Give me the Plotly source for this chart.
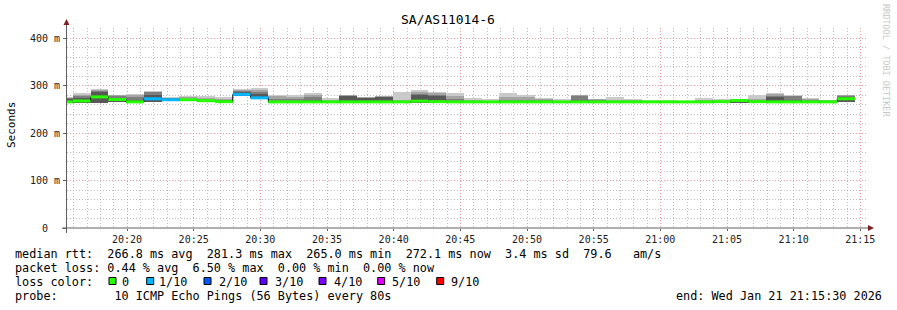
import plotly.graph_objects as go
from datetime import datetime, timedelta

# ---------------- data ----------------
first_bin_start = datetime(2026, 1, 21, 20, 14, 36)
step_seconds = 80
view_start = datetime(2026, 1, 21, 20, 15, 30)
view_end = datetime(2026, 1, 21, 21, 15, 30)

# median rtt per 80 s bin (ms)
median_ms = [265.5, 267.5, 276.0, 270.5, 265.5, 272.0, 270.0, 270.0, 268.0, 266.0,
             281.3, 274.0, 265.5, 265.5, 265.5, 265.5, 265.5, 265.5, 265.5, 265.5,
             267.0, 266.0, 265.5, 265.5, 265.5, 265.5, 265.5, 265.5, 265.5, 265.5,
             265.5, 265.5, 265.5, 265.5, 265.5, 265.5, 265.5, 266.0, 268.5, 266.0,
             265.5, 265.5, 265.5, 265.5, 272.1]
# lost pings out of 10
loss_count = [0, 0, 0, 0, 0, 1, 1, 0, 0, 0,
              1, 1, 0, 0, 0, 0, 0, 0, 0, 0,
              0, 0, 0, 0, 0, 0, 0, 0, 0, 0,
              0, 0, 0, 0, 0, 0, 0, 0, 0, 0,
              0, 0, 0, 0, 0]
# smoke: highest ping, 9th, 8th, 7th ping and lowest ping (ms)
smoke_top = [275, 285, 292, 281, 283, 288, 275, 277, 277, 275,
             292, 294, 279, 279, 285, 273, 279.5, 276, 277.5, 287,
             290, 287, 285, 273, 271, 285, 281, 273, 271, 279.5,
             272, 275, 272, 269, 269, 268, 273, 271, 270.5, 281,
             285, 279, 273, 270, 281]
smoke_p9 = [274, 281, 290, 279, 280, 287, 274, 275, 274, 272,
            290, 290, 278, 276, 280, 270, 279, 275, 277, 270,
            287, 285, 277, 270, 268, 275, 275, 272, 268, 279,
            271.5, 270, 269, 268, 268, 267.5, 270, 269, 270, 272,
            283, 278.5, 272, 269, 280]
smoke_p8 = [273, 277, 289, 277, 276, 286, 273, 272, 270, 270,
            288, 286, 272, 271, 276, 268, 278.5, 274, 276, 268,
            282, 281, 272, 268, 267, 270, 270, 269, 267, 277,
            270, 268, 268, 267, 267, 267, 268, 268, 269.5, 269,
            278, 278, 269, 268, 277]
smoke_p7 = [271, 273, 286, 274, 270, 281, 272, 271, 269, 269,
            286, 282, 268, 268, 270, 267, 278, 273, 275, 267,
            279, 278, 268, 267, 266, 268, 268, 267, 266, 269,
            268, 267, 267, 266.5, 266.5, 266.5, 267, 267, 269, 268,
            275, 270, 267, 267, 275]
smoke_bot = [263, 263, 263, 265, 264, 266, 268, 267, 265, 264,
             277, 272, 264, 264, 264, 264, 264, 264, 264, 264,
             264, 264, 264, 264, 264, 264, 264, 264, 264, 264,
             264, 264, 264, 264, 264, 264, 264, 264, 264, 264,
             264, 264, 264, 264, 266]

loss_colors = {0: "#26ff00", 1: "#00b8ff", 2: "#0059ff", 3: "#5e00ff",
               4: "#7e00ff", 5: "#dd00ff", 9: "#ff0000"}
loss_labels = ["0", "1/10", "2/10", "3/10", "4/10", "5/10", "9/10"]
loss_keys = [0, 1, 2, 3, 4, 5, 9]

x_tick_step_min = 5
y_max = 421.05

# ---------------- geometry helpers ----------------
W, H = 897, 310
L, R, T, B = 67, 867, 28, 228


def px(x):
    return (x - L) / (R - L)


def py(y):
    return (B - y) / (B - T)


MONO = "DejaVu Sans Mono"

starts = [first_bin_start + timedelta(seconds=step_seconds * i) for i in range(len(median_ms))]
centers = [s + timedelta(seconds=step_seconds / 2) for s in starts]
last_end = starts[-1] + timedelta(seconds=step_seconds)

fig = go.Figure()

# smoke (outer band first, inner bands over it)
for upper, col in [(smoke_top, "#cacaca"), (smoke_p9, "#a4a4a4"),
                   (smoke_p8, "#7e7e7e"), (smoke_p7, "#585858")]:
    fig.add_trace(go.Bar(
        x=centers, y=[u - b for u, b in zip(upper, smoke_bot)], base=smoke_bot,
        width=step_seconds * 1000, marker=dict(color=col, line=dict(width=0)),
        hoverinfo="skip", showlegend=False))

# black median step line
fig.add_trace(go.Scatter(
    x=starts + [last_end], y=median_ms + [median_ms[-1]], mode="lines",
    line=dict(shape="hv", color="#000000", width=1), hoverinfo="skip", showlegend=False))

# coloured median segments by loss
for k in sorted(set(loss_count)):
    xs, ys = [], []
    for s, m, lc in zip(starts, median_ms, loss_count):
        if lc == k:
            xs += [s, s + timedelta(seconds=step_seconds), None]
            ys += [m, m, None]
    fig.add_trace(go.Scatter(
        x=xs, y=ys, mode="lines", line=dict(color=loss_colors[k], width=3),
        hoverinfo="skip", showlegend=False, connectgaps=False))

fig.update_layout(
    width=W, height=H, margin=dict(l=L, r=W - R, t=T, b=H - B, pad=0),
    paper_bgcolor="#ffffff", plot_bgcolor="#ffffff",
    barmode="overlay", bargap=0, showlegend=False,
    font=dict(family=MONO, size=10, color="#000000"),
)

fig.update_xaxes(
    type="date", range=[view_start, view_end],
    tickformat="%H:%M", dtick=x_tick_step_min * 60 * 1000,
    tick0=datetime(2026, 1, 21, 20, 0, 0),
    showgrid=True, gridcolor="rgba(225,120,120,0.75)", griddash="1px,2px", gridwidth=1,
    minor=dict(dtick=60 * 1000, showgrid=True, gridcolor="rgba(160,160,160,0.7)",
               griddash="1px,2px", gridwidth=1),
    ticks="outside", ticklen=2, tickcolor="#606060",
    tickfont=dict(family=MONO, size=10, color="#202020"),
    showline=False, zeroline=False, fixedrange=True,
)
fig.update_yaxes(
    range=[0, y_max], dtick=100, tick0=0,
    showgrid=True, gridcolor="rgba(225,120,120,0.75)", griddash="1px,2px", gridwidth=1,
    minor=dict(dtick=20, showgrid=True, gridcolor="rgba(160,160,160,0.7)",
               griddash="1px,2px", gridwidth=1),
    showticklabels=False, ticks="outside", ticklen=3, tickcolor="#606060",
    showline=False, zeroline=False, fixedrange=True,
)

shapes = []
axis_col = "#606060"
arrow_col = "#7f1f1f"
# axes lines
shapes.append(dict(type="line", xref="paper", yref="paper", x0=px(62), x1=px(869),
                   y0=py(228), y1=py(228), line=dict(color=axis_col, width=1), layer="above"))
shapes.append(dict(type="line", xref="paper", yref="paper", x0=px(66.5), x1=px(66.5),
                   y0=py(233), y1=py(24), line=dict(color=axis_col, width=1), layer="above"))
# arrows
shapes.append(dict(type="path", xref="paper", yref="paper",
                   path=f"M {px(868)} {py(225)} L {px(874)} {py(228)} L {px(868)} {py(231)} Z",
                   fillcolor=arrow_col, line=dict(width=0), layer="above"))
shapes.append(dict(type="path", xref="paper", yref="paper",
                   path=f"M {px(63.5)} {py(25)} L {px(66.5)} {py(19)} L {px(69.5)} {py(25)} Z",
                   fillcolor=arrow_col, line=dict(width=0), layer="above"))

annotations = []


def txt(x, y, s, size=11.8, anchor="left", color="#000000", angle=0, yanchor="middle"):
    annotations.append(dict(
        x=px(x), y=py(y), xref="paper", yref="paper", text=s.replace(" ", "\u00a0"),
        showarrow=False, xanchor=anchor, yanchor=yanchor, textangle=angle,
        font=dict(family=MONO, size=size, color=color), borderpad=0))


# title
txt(448, 19, "SA/AS11014-6", size=13, anchor="center")
# y label and tick labels
txt(11, 125, "Seconds", size=11, anchor="center", angle=-90)
for v in [0, 100, 200, 300, 400]:
    lab = "0" if v == 0 else f"{v} m"
    annotations.append(dict(x=px(44.5), y=v, xref="paper", yref="y", text=lab.replace(" ", "\u00a0"),
                            showarrow=False, xanchor="center", yanchor="middle",
                            font=dict(family=MONO, size=10, color="#202020"), borderpad=0))
# watermark
txt(886, 60, "RRDTOOL / TOBI OETIKER", size=8.5, anchor="center", color="#c8c8c8", angle=90)

# legend lines
txt(14, 254, "median rtt:  266.8 ms avg  281.3 ms max  265.0 ms min  272.1 ms now  3.4 ms sd  79.6   am/s")
txt(14, 268, "packet loss: 0.44 % avg  6.50 % max  0.00 % min  0.00 % now")
txt(14, 282, "loss color:")
txt(14, 296, "probe:        10 ICMP Echo Pings (56 Bytes) every 80s")
txt(883, 296, "end: Wed Jan 21 21:15:30 2026", anchor="right")

box_x = [109, 146.7, 204, 260, 319, 377.7, 436.7]
lab_x = [121, 157.5, 217.5, 273.5, 332.5, 391, 449.5]
for k, lab, bx, lx in zip(loss_keys, loss_labels, box_x, lab_x):
    shapes.append(dict(type="rect", xref="paper", yref="paper",
                       x0=px(bx), x1=px(bx + 7), y0=py(284.5), y1=py(277.5),
                       fillcolor=loss_colors[k], line=dict(color="#000000", width=1)))
    txt(lx, 282, lab)

fig.update_layout(shapes=shapes, annotations=annotations)

fig.write_html("out.html", config={"displayModeBar": False, "staticPlot": True})
